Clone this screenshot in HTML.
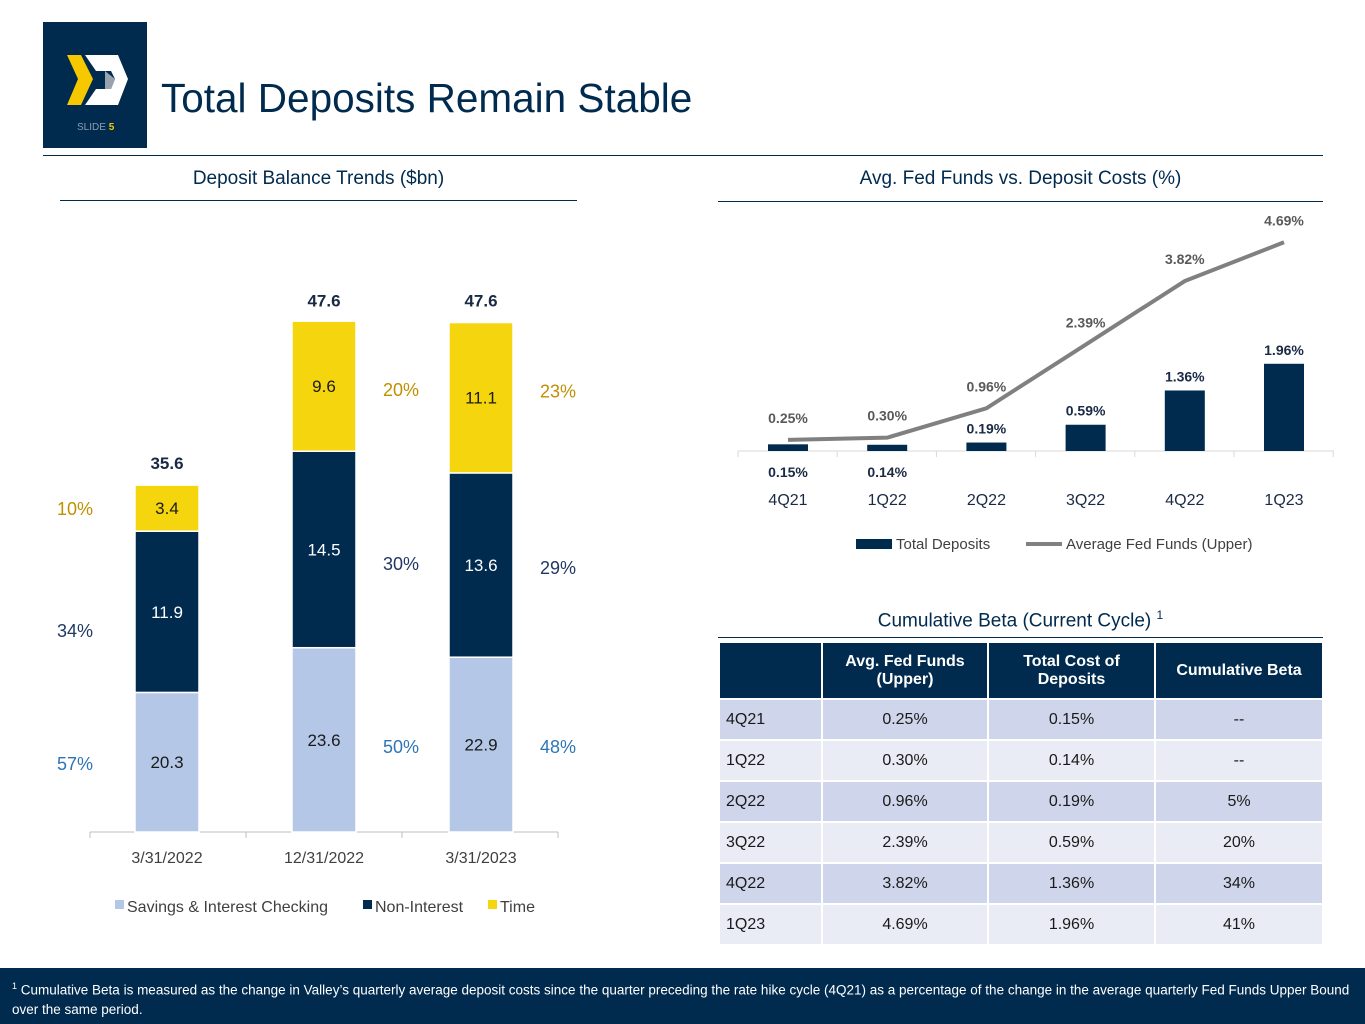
<!DOCTYPE html>
<html><head><meta charset="utf-8"><style>
body{margin:0;width:1365px;height:1024px;background:#fff;font-family:"Liberation Sans",sans-serif;position:relative;overflow:hidden}
.abs{position:absolute}
table{border-collapse:separate;border-spacing:2px}
td{font-size:16px;color:#1a1a1a;text-align:center;height:39px;padding:0}
th{background:#002a4e;color:#fff;font-size:16px;height:55px;padding:0}
tr.a td{background:#cfd5ea}tr.b td{background:#e9ebf5}
</style></head><body>
<div class="abs" style="left:43px;top:22px;width:104px;height:126px;background:#002a4e">
<svg width="104" height="126"><polygon points="24,33 38,33 50,57 38,83 24,83 35,57" fill="#f5c800"/><polygon points="42,33 75,33 85,57 75,83 42,83 53,67 68,67 72,57 68,49 53,49" fill="#fff"/><polygon points="62,49 72,57 68,67 62,67" fill="#9aa3ad"/>
<text x="34" y="108" font-size="10" fill="#8d9db3" font-family="Liberation Sans">SLIDE <tspan fill="#f5c800" font-weight="bold">5</tspan></text></svg></div>
<div class="abs" style="left:161px;top:75px;font-size:40.5px;color:#002a4e">Total Deposits Remain Stable</div>
<div class="abs" style="left:43px;top:155px;width:1280px;height:1px;background:#002a4e"></div>
<div class="abs" style="left:60px;width:517px;top:168px;text-align:center;font-size:19px;color:#002a4e">Deposit Balance Trends ($bn)</div>
<div class="abs" style="left:60px;top:200px;width:517px;height:1px;background:#002a4e"></div>
<div class="abs" style="left:718px;width:605px;top:168px;text-align:center;font-size:19px;color:#002a4e">Avg. Fed Funds vs. Deposit Costs (%)</div>
<div class="abs" style="left:718px;top:201px;width:605px;height:1px;background:#002a4e"></div>
<div class="abs" style="left:718px;width:605px;top:608px;text-align:center;font-size:19px;color:#002a4e">Cumulative Beta (Current Cycle) <sup style="font-size:12px">1</sup></div>
<div class="abs" style="left:718px;top:637px;width:605px;height:1px;background:#002a4e"></div>
<svg id="left" class="abs" style="left:0;top:0" width="700" height="960"></svg>
<svg id="right" class="abs" style="left:0;top:0" width="1365" height="600"></svg>
<table class="abs" style="left:718px;top:641px">
<tr><th style="width:101px"></th><th style="width:164px">Avg. Fed Funds<br>(Upper)</th><th style="width:165px">Total Cost of<br>Deposits</th><th style="width:166px">Cumulative Beta</th></tr>
<tr class="a"><td style="text-align:left;padding-left:6px">4Q21</td><td>0.25%</td><td>0.15%</td><td>--</td></tr>
<tr class="b"><td style="text-align:left;padding-left:6px">1Q22</td><td>0.30%</td><td>0.14%</td><td>--</td></tr>
<tr class="a"><td style="text-align:left;padding-left:6px">2Q22</td><td>0.96%</td><td>0.19%</td><td>5%</td></tr>
<tr class="b"><td style="text-align:left;padding-left:6px">3Q22</td><td>2.39%</td><td>0.59%</td><td>20%</td></tr>
<tr class="a"><td style="text-align:left;padding-left:6px">4Q22</td><td>3.82%</td><td>1.36%</td><td>34%</td></tr>
<tr class="b"><td style="text-align:left;padding-left:6px">1Q23</td><td>4.69%</td><td>1.96%</td><td>41%</td></tr>
</table>
<div class="abs" style="left:0;top:968px;width:1365px;height:56px;background:#002a4e;color:#fff;font-size:13.5px;line-height:19px;box-sizing:border-box;padding:9px 12px"><sup style="font-size:9px">1</sup> Cumulative Beta is measured as the change in Valley’s quarterly average deposit costs since the quarter preceding the rate hike cycle (4Q21) as a percentage of the change in the average quarterly Fed Funds Upper Bound over the same period.</div>
<script>
const dates=["3/31/2022","12/31/2022","3/31/2023"];
const savings=[20.3,23.6,22.9];
const nonInt=[11.9,14.5,13.6];
const time=[3.4,9.6,11.1];
const totals=[35.6,47.6,47.6];
const pctSav=["57%","50%","48%"];
const pctNon=["34%","30%","29%"];
const pctTime=["10%","20%","23%"];
const quarters=["4Q21","1Q22","2Q22","3Q22","4Q22","1Q23"];
const depCost=[0.15,0.14,0.19,0.59,1.36,1.96];
const fedFunds=[0.25,0.30,0.96,2.39,3.82,4.69];
const NS="http://www.w3.org/2000/svg";
function mk(svg,tag,at,txt){const e=document.createElementNS(NS,tag);for(const k in at)e.setAttribute(k,at[k]);if(txt!==undefined)e.textContent=txt;svg.appendChild(e);return e;}
const F="Liberation Sans, sans-serif";
const L=document.getElementById('left');
const ly=v=>832-(v-10)*13.55;
const lx=i=>167+i*157;
mk(L,'line',{x1:90,x2:558,y1:832,y2:832,stroke:'#bfbfbf'});
for(let i=0;i<=3;i++)mk(L,'line',{x1:90+i*156,x2:90+i*156,y1:832,y2:838,stroke:'#bfbfbf'});
dates.forEach((d,i)=>{
 const x=lx(i),w=64;
 const segs=[[10,savings[i],'#b4c7e7','#1a1a1a','savings'],[savings[i],savings[i]+nonInt[i],'#002a4e','#fff','non-interest'],[savings[i]+nonInt[i],savings[i]+nonInt[i]+time[i],'#f5d50e','#1a1a1a','time']];
 const vals=[savings[i],nonInt[i],time[i]];
 segs.forEach((s,j)=>{
  const r=mk(L,'rect',{x:x-w/2,y:ly(s[1]),width:w,height:ly(s[0])-ly(s[1]),fill:s[2],stroke:'#fff','stroke-width':1.5});
  
  
  const c=j==0?(ly(s[1])+832)/2:(ly(s[0])+ly(s[1]))/2;
  mk(L,'text',{x:x,y:c+6,'text-anchor':'middle','font-size':17,fill:s[3],'font-family':F},vals[j].toFixed(1));
 });
 mk(L,'text',{x:x,y:ly(totals[i])-16,'text-anchor':'middle','font-size':17,'font-weight':'bold',fill:'#1a2a44','font-family':F},totals[i].toFixed(1));
 mk(L,'text',{x:x,y:863,'text-anchor':'middle','font-size':16,fill:'#404040','font-family':F},d);
 const px=i==0?75:x+77, anc='middle';
 const top=savings[i]+nonInt[i];
 mk(L,'text',{x:px,y:i==0?770:753,'text-anchor':anc,'font-size':18,fill:'#2e75b6','font-family':F},pctSav[i]);
 mk(L,'text',{x:px,y:i==0?637:[0,570,574][i],'text-anchor':anc,'font-size':18,fill:'#1f3864','font-family':F},pctNon[i]);
 mk(L,'text',{x:px,y:i==0?515:ly(top+time[i])+75,'text-anchor':anc,'font-size':18,fill:'#bf9000','font-family':F},pctTime[i]);
});
[[115,'#b4c7e7','Savings & Interest Checking'],[363,'#002a4e','Non-Interest'],[488,'#f5d50e','Time']].forEach(l=>{
 mk(L,'rect',{x:l[0],y:900,width:9,height:9,fill:l[1]});
 mk(L,'text',{x:l[0]+12,y:912,'font-size':16,fill:'#404040','font-family':F},l[2]);
});
const R=document.getElementById('right');
const ry=v=>451-v*44.5;
const rx=i=>788+i*99.2;
mk(R,'line',{x1:738,x2:1334,y1:451,y2:451,stroke:'#d9d9d9'});
for(let i=0;i<=6;i++)mk(R,'line',{x1:738+i*99.2,x2:738+i*99.2,y1:451,y2:457,stroke:'#d9d9d9'});
quarters.forEach((q,i)=>{
 const b=mk(R,'rect',{x:rx(i)-20,y:ry(depCost[i]),width:40,height:451-ry(depCost[i]),fill:'#002a4e'});
 
 
 const by=i<2?477:ry(depCost[i])-9;
 mk(R,'text',{x:rx(i),y:by,'text-anchor':'middle','font-size':14,'font-weight':'bold',fill:'#1a2a44','font-family':F},depCost[i].toFixed(2)+'%');
 mk(R,'text',{x:rx(i),y:505,'text-anchor':'middle','font-size':16,fill:'#1a2a44','font-family':F},q);
 mk(R,'text',{x:rx(i),y:ry(fedFunds[i])-17,'text-anchor':'middle','font-size':14,'font-weight':'bold',fill:'#595959','font-family':F},fedFunds[i].toFixed(2)+'%');
});
const ln=mk(R,'polyline',{points:fedFunds.map((v,i)=>rx(i)+','+ry(v)).join(' '),fill:'none',stroke:'#808080','stroke-width':4});


mk(R,'rect',{x:856,y:539,width:36,height:10,fill:'#002a4e'});
mk(R,'text',{x:896,y:549,'font-size':15,fill:'#404040','font-family':F},'Total Deposits');
mk(R,'line',{x1:1026,x2:1062,y1:544,y2:544,stroke:'#808080','stroke-width':4});
mk(R,'text',{x:1066,y:549,'font-size':15,fill:'#404040','font-family':F},'Average Fed Funds (Upper)');
</script>
</body></html>
